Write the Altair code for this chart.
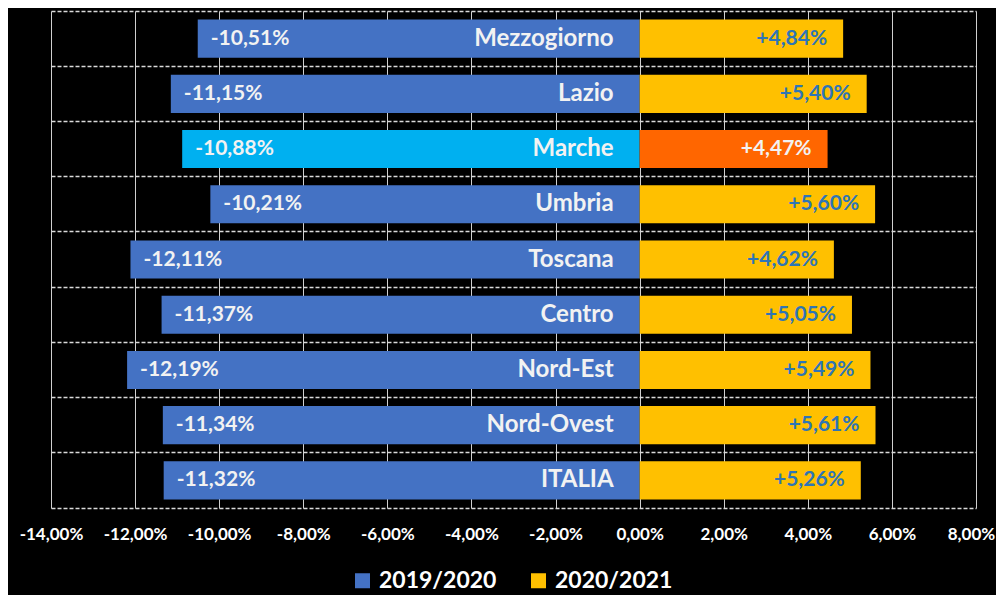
import altair as alt
import pandas as pd

categories = ["Mezzogiorno", "Lazio", "Marche", "Umbria", "Toscana",
              "Centro", "Nord-Est", "Nord-Ovest", "ITALIA"]
v_2019_2020 = [-10.51, -11.15, -10.88, -10.21, -12.11, -11.37, -12.19, -11.34, -11.32]
v_2020_2021 = [4.84, 5.40, 4.47, 5.60, 4.62, 5.05, 5.49, 5.61, 5.26]
series_names = ["2019/2020", "2020/2021"]
highlight = "Marche"
x_ticks = [-14, -12, -10, -8, -6, -4, -2, 0, 2, 4, 6, 8]


def fmt(v, sign_plus):
    s = f"{abs(v):.2f}".replace(".", ",") + "%"
    if v < 0:
        return "-" + s
    return ("+" + s) if sign_plus else s


rows = []
for c, a, b in zip(categories, v_2019_2020, v_2020_2021):
    hi = c == highlight
    rows.append(dict(cat=c, value=a, zero=0, series=series_names[0],
                     ckey=("H " + series_names[0]) if hi else series_names[0],
                     label=fmt(a, False), hi=hi))
    rows.append(dict(cat=c, value=b, zero=0, series=series_names[1],
                     ckey=("H " + series_names[1]) if hi else series_names[1],
                     label=fmt(b, True), hi=hi))
df = pd.DataFrame(rows)

FONT = "Lato"

y_enc = alt.Y("cat:N", sort=categories,
              scale=alt.Scale(paddingInner=0, paddingOuter=0),
              axis=alt.Axis(title=None, labels=False, ticks=False, domain=False,
                            grid=True, bandPosition=0, gridColor="#D9D9D9",
                            gridDash=[4, 2], gridWidth=1.5))

x_enc = alt.X("value:Q", scale=alt.Scale(domain=[-14, 8], nice=False, zero=False),
              axis=alt.Axis(values=x_ticks, title=None, grid=True, gridColor="#D0D0D0",
                            gridWidth=1, ticks=False, domain=True, domainColor="#D9D9D9",
                            domainDash=[4, 2], domainWidth=1.5,
                            labelExpr="(datum.value < 0 ? '-' : '') + replace(format(abs(datum.value), '.2f'), '.', ',') + '%'",
                            labelColor="white", labelFont=FONT, labelFontSize=17,
                            labelFontWeight="bold", labelOverlap=False, labelFlush=False,
                            labelOffset={"condition": {"test": "datum.value == 8", "value": -5},
                                         "value": 0},
                            labelPadding=18))

color_domain = [series_names[0], series_names[1], "H " + series_names[0], "H " + series_names[1]]
color_range = ["#4472C4", "#FFC000", "#00B0F0", "#FF6600"]

bars = alt.Chart(df).mark_bar(height={"band": 0.69}).encode(
    x=x_enc,
    y=y_enc,
    color=alt.Color("ckey:N", scale=alt.Scale(domain=color_domain, range=color_range),
                    legend=alt.Legend(values=series_names, orient="none", legendX=300,
                                      legendY=558, direction="horizontal", columns=2,
                                      title=None, symbolType="square", symbolSize=225,
                                      symbolStrokeWidth=0, labelFont=FONT, labelFontSize=23,
                                      labelFontWeight="bold", labelColor="white",
                                      labelOffset=5, columnPadding=30, padding=0)),
)

neg_labels = alt.Chart(df).transform_filter(
    alt.datum.series == series_names[0]
).mark_text(align="left", baseline="middle", dx=13, font=FONT, fontSize=21,
            fontWeight="bold", color="#F2F2F2").encode(
    x="value:Q", y=alt.Y("cat:N", sort=categories), text="label:N")

cat_labels = alt.Chart(df).transform_filter(
    alt.datum.series == series_names[0]
).mark_text(align="right", baseline="middle", dx=-26, font=FONT, fontSize=24,
            fontWeight="bold", color="#F2F2F2").encode(
    x="zero:Q", y=alt.Y("cat:N", sort=categories), text="cat:N")

pos_labels = alt.Chart(df).transform_filter(
    alt.datum.series == series_names[1]
).mark_text(align="right", baseline="middle", dx=-16, font=FONT, fontSize=21,
            fontWeight="bold").encode(
    x="value:Q", y=alt.Y("cat:N", sort=categories), text="label:N",
    color=alt.condition(alt.datum.hi, alt.value("#F2F2F2"), alt.value("#2E75B6")))

chart = alt.layer(bars, neg_labels, cat_labels, pos_labels).properties(
    width=925, height=497,
    autosize=alt.AutoSizeParams(type="none"),
    padding={"left": 43, "top": 3, "right": 20, "bottom": 87},
    background="black",
).configure_view(stroke=None)

chart.save("out.html", embed_options={"renderer": "svg", "actions": False})
